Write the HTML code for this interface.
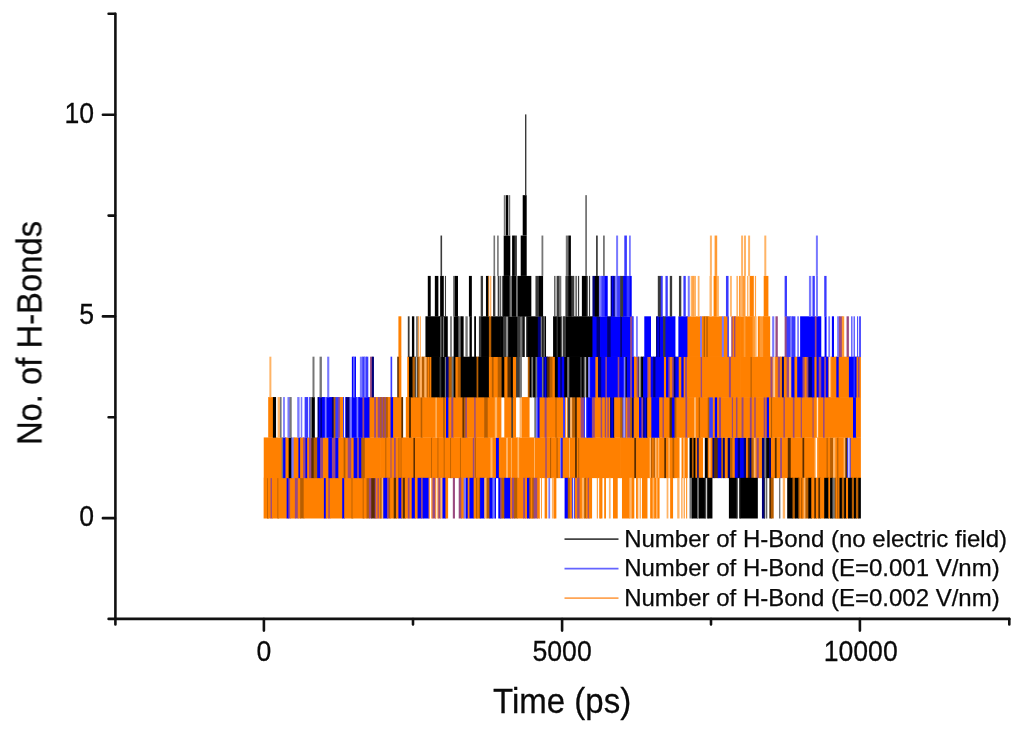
<!DOCTYPE html>
<html><head><meta charset="utf-8"><title>H-Bonds</title>
<style>
html,body{margin:0;padding:0;background:#fff;}
body{width:1024px;height:732px;overflow:hidden;}
svg{display:block;}
text{font-family:"Liberation Sans",sans-serif;fill:#0a0a0a;stroke:#0a0a0a;stroke-width:0.25px;}
#labels{opacity:0.999;}
</style></head><body>
<svg width="1024" height="732" viewBox="0 0 1024 732">
<defs><filter id="soft" x="-2%" y="-2%" width="104%" height="104%" color-interpolation-filters="sRGB"><feGaussianBlur stdDeviation="0.45 0.35"/></filter></defs>
<rect width="1024" height="732" fill="#fff"/>
<g id="data" filter="url(#soft)">
<rect x="263.61" y="477.82" width="4.46" height="40.68" fill="#ff8000"/>
<rect x="267.10" y="477.82" width="1.70" height="40.68" fill="#b85e00"/>
<rect x="267.84" y="477.82" width="3.40" height="40.68" fill="#ff8000"/>
<rect x="270.54" y="477.82" width="2.11" height="40.68" fill="#9a4a80"/>
<rect x="271.95" y="477.82" width="6.34" height="40.68" fill="#ff8000"/>
<rect x="277.44" y="477.82" width="1.70" height="40.68" fill="#b85e00"/>
<rect x="278.30" y="477.82" width="9.04" height="40.68" fill="#ff8000"/>
<rect x="286.64" y="477.82" width="2.46" height="40.68" fill="#0000ff"/>
<rect x="288.40" y="477.82" width="2.46" height="40.68" fill="#9a4a80"/>
<rect x="290.16" y="477.82" width="5.40" height="40.68" fill="#ff8000"/>
<rect x="294.87" y="477.82" width="3.64" height="40.68" fill="#9a4a80"/>
<rect x="297.80" y="477.82" width="3.05" height="40.68" fill="#ff8000"/>
<rect x="300.15" y="477.82" width="4.23" height="40.68" fill="#b85e00"/>
<rect x="303.68" y="477.82" width="20.91" height="40.68" fill="#ff8000"/>
<rect x="323.89" y="477.82" width="2.58" height="40.68" fill="#0000ff"/>
<rect x="325.77" y="477.82" width="3.29" height="40.68" fill="#ff8000"/>
<rect x="328.36" y="477.82" width="2.11" height="40.68" fill="#9a4a80"/>
<rect x="329.77" y="477.82" width="13.16" height="40.68" fill="#ff8000"/>
<rect x="342.22" y="477.82" width="2.70" height="40.68" fill="#0000ff"/>
<rect x="344.22" y="477.82" width="8.10" height="40.68" fill="#ff8000"/>
<rect x="351.53" y="477.82" width="1.70" height="40.68" fill="#b85e00"/>
<rect x="352.44" y="477.82" width="11.04" height="40.68" fill="#ff8000"/>
<rect x="362.70" y="477.82" width="1.70" height="40.68" fill="#b85e00"/>
<rect x="363.61" y="477.82" width="3.64" height="40.68" fill="#ff8000"/>
<rect x="366.55" y="477.82" width="3.05" height="40.68" fill="#b85e00"/>
<rect x="368.90" y="477.82" width="3.05" height="40.68" fill="#9a4a80"/>
<rect x="371.25" y="477.82" width="4.23" height="40.68" fill="#5a2d00"/>
<rect x="374.77" y="477.82" width="2.05" height="40.68" fill="#9a4a80"/>
<rect x="376.12" y="477.82" width="2.05" height="40.68" fill="#ff8000"/>
<rect x="377.47" y="477.82" width="2.05" height="40.68" fill="#9a4a80"/>
<rect x="378.83" y="477.82" width="2.05" height="40.68" fill="#ff8000"/>
<rect x="263.73" y="437.44" width="18.68" height="40.68" fill="#ff8000"/>
<rect x="281.70" y="437.44" width="2.11" height="40.68" fill="#767676"/>
<rect x="283.11" y="437.44" width="3.05" height="40.68" fill="#0000ff"/>
<rect x="285.46" y="437.44" width="3.87" height="40.68" fill="#ff8000"/>
<rect x="288.64" y="437.44" width="3.40" height="40.68" fill="#000000"/>
<rect x="291.34" y="437.44" width="3.05" height="40.68" fill="#7878ff"/>
<rect x="293.69" y="437.44" width="5.40" height="40.68" fill="#ff8000"/>
<rect x="298.39" y="437.44" width="2.46" height="40.68" fill="#0000ff"/>
<rect x="300.15" y="437.44" width="3.64" height="40.68" fill="#ff8000"/>
<rect x="303.09" y="437.44" width="3.05" height="40.68" fill="#9a4a80"/>
<rect x="305.44" y="437.44" width="2.46" height="40.68" fill="#0000ff"/>
<rect x="307.20" y="437.44" width="2.46" height="40.68" fill="#ff8000"/>
<rect x="308.97" y="437.44" width="3.05" height="40.68" fill="#9a4a80"/>
<rect x="311.32" y="437.44" width="3.05" height="40.68" fill="#5a2d00"/>
<rect x="313.67" y="437.44" width="4.23" height="40.68" fill="#b85e00"/>
<rect x="317.19" y="437.44" width="3.64" height="40.68" fill="#0000ff"/>
<rect x="320.13" y="437.44" width="3.64" height="40.68" fill="#9a4a80"/>
<rect x="323.07" y="437.44" width="5.99" height="40.68" fill="#ff8000"/>
<rect x="328.36" y="437.44" width="4.23" height="40.68" fill="#0000ff"/>
<rect x="331.88" y="437.44" width="4.23" height="40.68" fill="#9a4a80"/>
<rect x="335.41" y="437.44" width="3.64" height="40.68" fill="#0000ff"/>
<rect x="338.34" y="437.44" width="5.99" height="40.68" fill="#ff8000"/>
<rect x="343.63" y="437.44" width="2.46" height="40.68" fill="#b85e00"/>
<rect x="345.39" y="437.44" width="3.05" height="40.68" fill="#ff8000"/>
<rect x="347.74" y="437.44" width="4.23" height="40.68" fill="#9a4a80"/>
<rect x="351.27" y="437.44" width="3.05" height="40.68" fill="#ff8000"/>
<rect x="353.62" y="437.44" width="4.23" height="40.68" fill="#0000ff"/>
<rect x="357.14" y="437.44" width="2.46" height="40.68" fill="#9a4a80"/>
<rect x="358.91" y="437.44" width="3.05" height="40.68" fill="#0000ff"/>
<rect x="361.26" y="437.44" width="4.23" height="40.68" fill="#b85e00"/>
<rect x="364.78" y="437.44" width="16.09" height="40.68" fill="#ff8000"/>
<rect x="380.20" y="437.44" width="5.87" height="40.68" fill="#ff8000"/>
<rect x="385.34" y="437.44" width="1.70" height="40.68" fill="#b85e00"/>
<rect x="386.31" y="437.44" width="4.93" height="40.68" fill="#ff8000"/>
<rect x="390.51" y="437.44" width="1.70" height="40.68" fill="#9a4a80"/>
<rect x="391.48" y="437.44" width="3.29" height="40.68" fill="#ff8000"/>
<rect x="394.07" y="437.44" width="2.35" height="40.68" fill="#9a4a80"/>
<rect x="395.71" y="437.44" width="3.64" height="40.68" fill="#ff8000"/>
<rect x="398.50" y="437.44" width="1.70" height="40.68" fill="#b85e00"/>
<rect x="399.35" y="437.44" width="2.11" height="40.68" fill="#ff8000"/>
<rect x="400.62" y="437.44" width="1.70" height="40.68" fill="#b85e00"/>
<rect x="401.47" y="437.44" width="12.69" height="40.68" fill="#ff8000"/>
<rect x="413.45" y="437.44" width="2.23" height="40.68" fill="#5a2d00"/>
<rect x="414.98" y="437.44" width="17.03" height="40.68" fill="#ff8000"/>
<rect x="431.17" y="437.44" width="1.70" height="40.68" fill="#b85e00"/>
<rect x="432.02" y="437.44" width="6.34" height="40.68" fill="#ff8000"/>
<rect x="437.51" y="437.44" width="1.70" height="40.68" fill="#b85e00"/>
<rect x="438.37" y="437.44" width="6.22" height="40.68" fill="#ff8000"/>
<rect x="443.74" y="437.44" width="1.70" height="40.68" fill="#b85e00"/>
<rect x="444.59" y="437.44" width="6.46" height="40.68" fill="#ff8000"/>
<rect x="450.21" y="437.44" width="1.70" height="40.68" fill="#b85e00"/>
<rect x="451.06" y="437.44" width="9.75" height="40.68" fill="#ff8000"/>
<rect x="459.96" y="437.44" width="1.70" height="40.68" fill="#b85e00"/>
<rect x="460.81" y="437.44" width="12.69" height="40.68" fill="#ff8000"/>
<rect x="472.80" y="437.44" width="2.35" height="40.68" fill="#9a4a80"/>
<rect x="474.44" y="437.44" width="1.52" height="40.68" fill="#ff8000"/>
<rect x="475.12" y="437.44" width="1.70" height="40.68" fill="#b85e00"/>
<rect x="475.97" y="437.44" width="15.15" height="40.68" fill="#ff8000"/>
<rect x="490.42" y="437.44" width="2.82" height="40.68" fill="#ffb466"/>
<rect x="492.54" y="437.44" width="4.11" height="40.68" fill="#ff8000"/>
<rect x="495.95" y="437.44" width="3.64" height="40.68" fill="#0000ff"/>
<rect x="498.88" y="437.44" width="1.99" height="40.68" fill="#ff8000"/>
<rect x="380.20" y="477.82" width="2.11" height="40.68" fill="#b85e00"/>
<rect x="381.61" y="477.82" width="2.35" height="40.68" fill="#ffb466"/>
<rect x="383.26" y="477.82" width="4.46" height="40.68" fill="#0000ff"/>
<rect x="387.02" y="477.82" width="2.35" height="40.68" fill="#9a4a80"/>
<rect x="388.66" y="477.82" width="2.23" height="40.68" fill="#b85e00"/>
<rect x="390.19" y="477.82" width="4.23" height="40.68" fill="#ff8000"/>
<rect x="393.71" y="477.82" width="3.05" height="40.68" fill="#5a2d00"/>
<rect x="396.06" y="477.82" width="3.05" height="40.68" fill="#ff8000"/>
<rect x="398.41" y="477.82" width="3.64" height="40.68" fill="#0000ff"/>
<rect x="401.35" y="477.82" width="2.11" height="40.68" fill="#ff8000"/>
<rect x="402.76" y="477.82" width="2.82" height="40.68" fill="#5a2d00"/>
<rect x="404.88" y="477.82" width="3.64" height="40.68" fill="#ff8000"/>
<rect x="407.81" y="477.82" width="2.46" height="40.68" fill="#9a4a80"/>
<rect x="409.58" y="477.82" width="2.82" height="40.68" fill="#ff8000"/>
<rect x="411.69" y="477.82" width="3.87" height="40.68" fill="#0000ff"/>
<rect x="414.87" y="477.82" width="3.40" height="40.68" fill="#ff8000"/>
<rect x="417.57" y="477.82" width="4.23" height="40.68" fill="#0000ff"/>
<rect x="421.09" y="477.82" width="2.35" height="40.68" fill="#9a4a80"/>
<rect x="422.74" y="477.82" width="6.58" height="40.68" fill="#0000ff"/>
<rect x="428.61" y="477.82" width="1.29" height="40.68" fill="#ff9a33"/>
<rect x="431.20" y="477.82" width="1.99" height="40.68" fill="#ff9a33"/>
<rect x="432.49" y="477.82" width="3.40" height="40.68" fill="#9a4a80"/>
<rect x="435.19" y="477.82" width="1.06" height="40.68" fill="#ff9a33"/>
<rect x="437.31" y="477.82" width="1.76" height="40.68" fill="#ff9a33"/>
<rect x="438.37" y="477.82" width="2.70" height="40.68" fill="#9a4a80"/>
<rect x="440.36" y="477.82" width="2.82" height="40.68" fill="#ffb466"/>
<rect x="442.48" y="477.82" width="3.64" height="40.68" fill="#0000ff"/>
<rect x="445.42" y="477.82" width="2.70" height="40.68" fill="#ff8000"/>
<rect x="452.82" y="477.82" width="2.12" height="40.68" fill="#9a4a80"/>
<rect x="458.70" y="477.82" width="3.29" height="40.68" fill="#9a4a80"/>
<rect x="461.28" y="477.82" width="3.05" height="40.68" fill="#ff8000"/>
<rect x="463.63" y="477.82" width="3.05" height="40.68" fill="#7878ff"/>
<rect x="465.98" y="477.82" width="2.46" height="40.68" fill="#0000ff"/>
<rect x="467.74" y="477.82" width="2.46" height="40.68" fill="#ff8000"/>
<rect x="469.51" y="477.82" width="4.81" height="40.68" fill="#0000ff"/>
<rect x="473.62" y="477.82" width="3.05" height="40.68" fill="#ff8000"/>
<rect x="475.97" y="477.82" width="2.07" height="40.68" fill="#b85e00"/>
<rect x="477.34" y="477.82" width="2.07" height="40.68" fill="#ff8000"/>
<rect x="478.71" y="477.82" width="2.07" height="40.68" fill="#b85e00"/>
<rect x="480.08" y="477.82" width="4.81" height="40.68" fill="#0000ff"/>
<rect x="484.20" y="477.82" width="3.05" height="40.68" fill="#ffb466"/>
<rect x="486.55" y="477.82" width="3.64" height="40.68" fill="#b85e00"/>
<rect x="489.48" y="477.82" width="3.64" height="40.68" fill="#0000ff"/>
<rect x="492.42" y="477.82" width="3.05" height="40.68" fill="#7878ff"/>
<rect x="494.77" y="477.82" width="1.18" height="40.68" fill="#0000ff"/>
<rect x="498.30" y="477.82" width="2.58" height="40.68" fill="#0000ff"/>
<rect x="500.20" y="437.44" width="6.58" height="40.68" fill="#ff8000"/>
<rect x="506.08" y="437.44" width="2.58" height="40.68" fill="#ffb466"/>
<rect x="507.96" y="437.44" width="3.76" height="40.68" fill="#ff8000"/>
<rect x="510.92" y="437.44" width="1.70" height="40.68" fill="#ffb466"/>
<rect x="511.83" y="437.44" width="6.34" height="40.68" fill="#ff8000"/>
<rect x="517.47" y="437.44" width="2.35" height="40.68" fill="#ffb466"/>
<rect x="519.12" y="437.44" width="15.74" height="40.68" fill="#ff8000"/>
<rect x="534.07" y="437.44" width="1.70" height="40.68" fill="#ffb466"/>
<rect x="534.98" y="437.44" width="11.04" height="40.68" fill="#ff8000"/>
<rect x="545.32" y="437.44" width="2.11" height="40.68" fill="#9a4a80"/>
<rect x="546.73" y="437.44" width="3.99" height="40.68" fill="#ff8000"/>
<rect x="550.02" y="437.44" width="1.88" height="40.68" fill="#b85e00"/>
<rect x="551.20" y="437.44" width="5.99" height="40.68" fill="#ff8000"/>
<rect x="556.49" y="437.44" width="1.88" height="40.68" fill="#b85e00"/>
<rect x="557.66" y="437.44" width="3.17" height="40.68" fill="#ff8000"/>
<rect x="560.13" y="437.44" width="1.88" height="40.68" fill="#7878ff"/>
<rect x="561.30" y="437.44" width="1.99" height="40.68" fill="#0000ff"/>
<rect x="562.60" y="437.44" width="7.28" height="40.68" fill="#ff8000"/>
<rect x="569.09" y="437.44" width="1.70" height="40.68" fill="#ffb466"/>
<rect x="570.00" y="437.44" width="5.75" height="40.68" fill="#ff8000"/>
<rect x="575.05" y="437.44" width="2.46" height="40.68" fill="#5a2d00"/>
<rect x="576.82" y="437.44" width="2.23" height="40.68" fill="#ff8000"/>
<rect x="578.25" y="437.44" width="1.70" height="40.68" fill="#b85e00"/>
<rect x="579.17" y="437.44" width="41.71" height="40.68" fill="#ff8000"/>
<rect x="500.20" y="477.82" width="2.11" height="40.68" fill="#9a4a80"/>
<rect x="501.61" y="477.82" width="3.40" height="40.68" fill="#b85e00"/>
<rect x="504.31" y="477.82" width="6.58" height="40.68" fill="#0000ff"/>
<rect x="510.19" y="477.82" width="2.46" height="40.68" fill="#ff8000"/>
<rect x="511.95" y="477.82" width="2.82" height="40.68" fill="#9a4a80"/>
<rect x="514.07" y="477.82" width="3.87" height="40.68" fill="#b85e00"/>
<rect x="517.24" y="477.82" width="6.58" height="40.68" fill="#ff8000"/>
<rect x="523.11" y="477.82" width="2.70" height="40.68" fill="#9a4a80"/>
<rect x="525.11" y="477.82" width="2.58" height="40.68" fill="#ff8000"/>
<rect x="526.99" y="477.82" width="3.05" height="40.68" fill="#0000ff"/>
<rect x="529.34" y="477.82" width="2.15" height="40.68" fill="#b85e00"/>
<rect x="530.79" y="477.82" width="2.15" height="40.68" fill="#ff8000"/>
<rect x="532.24" y="477.82" width="2.15" height="40.68" fill="#b85e00"/>
<rect x="533.69" y="477.82" width="4.23" height="40.68" fill="#9a4a80"/>
<rect x="537.22" y="477.82" width="2.46" height="40.68" fill="#ff8000"/>
<rect x="538.97" y="477.82" width="1.00" height="40.68" fill="#ff9a33"/>
<rect x="540.93" y="477.82" width="1.00" height="40.68" fill="#ff9a33"/>
<rect x="544.62" y="477.82" width="2.59" height="40.68" fill="#ff8000"/>
<rect x="548.38" y="477.82" width="1.76" height="40.68" fill="#7878ff"/>
<rect x="551.90" y="477.82" width="2.82" height="40.68" fill="#ffb466"/>
<rect x="554.02" y="477.82" width="2.35" height="40.68" fill="#ff8000"/>
<rect x="564.59" y="477.82" width="3.87" height="40.68" fill="#0000ff"/>
<rect x="567.77" y="477.82" width="2.70" height="40.68" fill="#b85e00"/>
<rect x="569.77" y="477.82" width="2.82" height="40.68" fill="#ff8000"/>
<rect x="571.87" y="477.82" width="1.00" height="40.68" fill="#3a3aff"/>
<rect x="573.83" y="477.82" width="1.70" height="40.68" fill="#3a3aff"/>
<rect x="574.82" y="477.82" width="3.05" height="40.68" fill="#ff8000"/>
<rect x="577.17" y="477.82" width="3.05" height="40.68" fill="#9a4a80"/>
<rect x="579.52" y="477.82" width="3.05" height="40.68" fill="#ff8000"/>
<rect x="581.87" y="477.82" width="3.05" height="40.68" fill="#ffb466"/>
<rect x="584.22" y="477.82" width="2.46" height="40.68" fill="#b85e00"/>
<rect x="585.98" y="477.82" width="2.46" height="40.68" fill="#ff8000"/>
<rect x="587.74" y="477.82" width="1.88" height="40.68" fill="#9a4a80"/>
<rect x="588.92" y="477.82" width="3.17" height="40.68" fill="#ff8000"/>
<rect x="596.79" y="477.82" width="1.10" height="40.68" fill="#ff9a33"/>
<rect x="598.99" y="477.82" width="1.80" height="40.68" fill="#ff9a33"/>
<rect x="600.08" y="477.82" width="2.35" height="40.68" fill="#ff8000"/>
<rect x="604.20" y="477.82" width="1.76" height="40.68" fill="#ff8000"/>
<rect x="608.90" y="477.82" width="1.76" height="40.68" fill="#ffb466"/>
<rect x="613.01" y="477.82" width="4.70" height="40.68" fill="#ff8000"/>
<rect x="620.20" y="437.44" width="14.80" height="40.68" fill="#ff8000"/>
<rect x="634.30" y="437.44" width="2.46" height="40.68" fill="#5a2d00"/>
<rect x="636.06" y="437.44" width="14.21" height="40.68" fill="#ff8000"/>
<rect x="649.58" y="437.44" width="2.11" height="40.68" fill="#ffb466"/>
<rect x="650.99" y="437.44" width="1.99" height="40.68" fill="#b85e00"/>
<rect x="652.28" y="437.44" width="1.99" height="40.68" fill="#ff8000"/>
<rect x="653.57" y="437.44" width="1.99" height="40.68" fill="#b85e00"/>
<rect x="654.87" y="437.44" width="2.46" height="40.68" fill="#ffb466"/>
<rect x="656.63" y="437.44" width="1.88" height="40.68" fill="#ff8000"/>
<rect x="657.80" y="437.44" width="2.11" height="40.68" fill="#ffb466"/>
<rect x="659.21" y="437.44" width="5.75" height="40.68" fill="#ff8000"/>
<rect x="664.27" y="437.44" width="2.46" height="40.68" fill="#5a2d00"/>
<rect x="666.03" y="437.44" width="3.05" height="40.68" fill="#ff8000"/>
<rect x="668.38" y="437.44" width="2.11" height="40.68" fill="#ffb466"/>
<rect x="669.79" y="437.44" width="3.40" height="40.68" fill="#ff8000"/>
<rect x="672.49" y="437.44" width="2.46" height="40.68" fill="#b85e00"/>
<rect x="674.25" y="437.44" width="5.29" height="40.68" fill="#ff8000"/>
<rect x="681.54" y="437.44" width="2.23" height="40.68" fill="#ff8000"/>
<rect x="683.07" y="437.44" width="2.46" height="40.68" fill="#ffb466"/>
<rect x="684.83" y="437.44" width="2.94" height="40.68" fill="#ff8000"/>
<rect x="689.53" y="437.44" width="3.05" height="40.68" fill="#000000"/>
<rect x="691.88" y="437.44" width="2.46" height="40.68" fill="#b85e00"/>
<rect x="693.64" y="437.44" width="2.46" height="40.68" fill="#000000"/>
<rect x="695.41" y="437.44" width="2.46" height="40.68" fill="#ff8000"/>
<rect x="697.17" y="437.44" width="2.23" height="40.68" fill="#00007a"/>
<rect x="698.70" y="437.44" width="4.35" height="40.68" fill="#ff8000"/>
<rect x="704.81" y="437.44" width="3.64" height="40.68" fill="#000000"/>
<rect x="707.74" y="437.44" width="1.88" height="40.68" fill="#ff8000"/>
<rect x="708.92" y="437.44" width="2.46" height="40.68" fill="#ffb466"/>
<rect x="710.68" y="437.44" width="2.46" height="40.68" fill="#ff8000"/>
<rect x="712.44" y="437.44" width="2.46" height="40.68" fill="#00007a"/>
<rect x="714.21" y="437.44" width="4.23" height="40.68" fill="#5a2d00"/>
<rect x="717.73" y="437.44" width="4.23" height="40.68" fill="#0000ff"/>
<rect x="721.26" y="437.44" width="2.46" height="40.68" fill="#b85e00"/>
<rect x="723.02" y="437.44" width="2.46" height="40.68" fill="#00007a"/>
<rect x="724.78" y="437.44" width="3.64" height="40.68" fill="#ff8000"/>
<rect x="727.72" y="437.44" width="3.05" height="40.68" fill="#00007a"/>
<rect x="730.07" y="437.44" width="3.05" height="40.68" fill="#b85e00"/>
<rect x="732.42" y="437.44" width="3.05" height="40.68" fill="#ff8000"/>
<rect x="734.77" y="437.44" width="3.64" height="40.68" fill="#0000ff"/>
<rect x="737.71" y="437.44" width="3.17" height="40.68" fill="#00007a"/>
<rect x="621.96" y="477.82" width="8.10" height="40.68" fill="#ff8000"/>
<rect x="629.37" y="477.82" width="3.05" height="40.68" fill="#ffb466"/>
<rect x="631.72" y="477.82" width="2.59" height="40.68" fill="#ff8000"/>
<rect x="636.06" y="477.82" width="1.88" height="40.68" fill="#ff8000"/>
<rect x="637.24" y="477.82" width="1.18" height="40.68" fill="#ff9a33"/>
<rect x="639.59" y="477.82" width="1.18" height="40.68" fill="#ff9a33"/>
<rect x="641.94" y="477.82" width="5.52" height="40.68" fill="#ff8000"/>
<rect x="650.16" y="477.82" width="3.05" height="40.68" fill="#ff8000"/>
<rect x="652.51" y="477.82" width="2.46" height="40.68" fill="#ffb466"/>
<rect x="654.28" y="477.82" width="2.46" height="40.68" fill="#ff8000"/>
<rect x="656.04" y="477.82" width="2.23" height="40.68" fill="#ffb466"/>
<rect x="657.57" y="477.82" width="2.00" height="40.68" fill="#ff8000"/>
<rect x="666.62" y="477.82" width="1.76" height="40.68" fill="#ffb466"/>
<rect x="670.14" y="477.82" width="2.94" height="40.68" fill="#ff8000"/>
<rect x="677.19" y="477.82" width="2.35" height="40.68" fill="#ffb466"/>
<rect x="681.30" y="477.82" width="1.18" height="40.68" fill="#ff9a33"/>
<rect x="683.65" y="477.82" width="1.18" height="40.68" fill="#ff9a33"/>
<rect x="686.00" y="477.82" width="1.18" height="40.68" fill="#ff9a33"/>
<rect x="689.53" y="477.82" width="3.05" height="40.68" fill="#767676"/>
<rect x="691.88" y="477.82" width="5.99" height="40.68" fill="#000000"/>
<rect x="697.17" y="477.82" width="2.46" height="40.68" fill="#767676"/>
<rect x="698.93" y="477.82" width="6.58" height="40.68" fill="#000000"/>
<rect x="704.80" y="477.82" width="1.00" height="40.68" fill="#3a3a3a"/>
<rect x="706.75" y="477.82" width="1.70" height="40.68" fill="#3a3a3a"/>
<rect x="707.74" y="477.82" width="4.70" height="40.68" fill="#000000"/>
<rect x="728.90" y="477.82" width="8.34" height="40.68" fill="#000000"/>
<rect x="736.53" y="477.82" width="1.21" height="40.68" fill="#3a3a3a"/>
<rect x="738.96" y="477.82" width="1.91" height="40.68" fill="#3a3a3a"/>
<rect x="740.20" y="437.44" width="4.23" height="40.68" fill="#0000ff"/>
<rect x="743.73" y="437.44" width="3.05" height="40.68" fill="#00007a"/>
<rect x="746.08" y="437.44" width="2.46" height="40.68" fill="#ff8000"/>
<rect x="747.84" y="437.44" width="2.46" height="40.68" fill="#5a2d00"/>
<rect x="749.60" y="437.44" width="2.46" height="40.68" fill="#00007a"/>
<rect x="751.36" y="437.44" width="3.05" height="40.68" fill="#b85e00"/>
<rect x="753.71" y="437.44" width="2.46" height="40.68" fill="#ffb466"/>
<rect x="755.48" y="437.44" width="1.88" height="40.68" fill="#ff8000"/>
<rect x="756.65" y="437.44" width="2.82" height="40.68" fill="#9a4a80"/>
<rect x="758.77" y="437.44" width="3.87" height="40.68" fill="#ff8000"/>
<rect x="761.94" y="437.44" width="3.05" height="40.68" fill="#00007a"/>
<rect x="764.29" y="437.44" width="2.70" height="40.68" fill="#767676"/>
<rect x="766.29" y="437.44" width="3.40" height="40.68" fill="#000000"/>
<rect x="768.99" y="437.44" width="2.70" height="40.68" fill="#00007a"/>
<rect x="770.99" y="437.44" width="4.58" height="40.68" fill="#ff8000"/>
<rect x="774.87" y="437.44" width="2.46" height="40.68" fill="#5a2d00"/>
<rect x="776.63" y="437.44" width="4.23" height="40.68" fill="#ff8000"/>
<rect x="780.15" y="437.44" width="2.46" height="40.68" fill="#9a4a80"/>
<rect x="781.92" y="437.44" width="6.58" height="40.68" fill="#ff8000"/>
<rect x="787.79" y="437.44" width="3.64" height="40.68" fill="#5a2d00"/>
<rect x="790.73" y="437.44" width="12.45" height="40.68" fill="#ff8000"/>
<rect x="802.48" y="437.44" width="2.46" height="40.68" fill="#5a2d00"/>
<rect x="804.24" y="437.44" width="10.69" height="40.68" fill="#ff8000"/>
<rect x="814.23" y="437.44" width="1.37" height="40.68" fill="#ff9a33"/>
<rect x="816.97" y="437.44" width="2.07" height="40.68" fill="#ff9a33"/>
<rect x="818.34" y="437.44" width="8.93" height="40.68" fill="#ff8000"/>
<rect x="826.57" y="437.44" width="1.88" height="40.68" fill="#b85e00"/>
<rect x="827.74" y="437.44" width="3.05" height="40.68" fill="#ff8000"/>
<rect x="830.09" y="437.44" width="3.64" height="40.68" fill="#b85e00"/>
<rect x="833.03" y="437.44" width="3.05" height="40.68" fill="#ffb466"/>
<rect x="835.38" y="437.44" width="2.46" height="40.68" fill="#ff8000"/>
<rect x="837.14" y="437.44" width="1.88" height="40.68" fill="#b85e00"/>
<rect x="838.32" y="437.44" width="5.99" height="40.68" fill="#ff8000"/>
<rect x="843.61" y="437.44" width="2.46" height="40.68" fill="#ffb466"/>
<rect x="845.37" y="437.44" width="2.46" height="40.68" fill="#5a2d00"/>
<rect x="847.13" y="437.44" width="1.18" height="40.68" fill="#3a3aff"/>
<rect x="849.48" y="437.44" width="1.88" height="40.68" fill="#3a3aff"/>
<rect x="850.66" y="437.44" width="10.22" height="40.68" fill="#ff8000"/>
<rect x="740.20" y="477.82" width="17.63" height="40.68" fill="#000000"/>
<rect x="761.94" y="477.82" width="3.05" height="40.68" fill="#00007a"/>
<rect x="764.28" y="477.82" width="1.00" height="40.68" fill="#3a3a3a"/>
<rect x="766.24" y="477.82" width="1.00" height="40.68" fill="#3a3a3a"/>
<rect x="769.34" y="477.82" width="2.35" height="40.68" fill="#5a2d00"/>
<rect x="770.99" y="477.82" width="2.70" height="40.68" fill="#b85e00"/>
<rect x="778.98" y="477.82" width="1.41" height="40.68" fill="#767676"/>
<rect x="782.74" y="477.82" width="2.35" height="40.68" fill="#ffb466"/>
<rect x="787.20" y="477.82" width="5.99" height="40.68" fill="#000000"/>
<rect x="792.49" y="477.82" width="3.05" height="40.68" fill="#b85e00"/>
<rect x="794.84" y="477.82" width="4.23" height="40.68" fill="#000000"/>
<rect x="798.37" y="477.82" width="2.02" height="40.68" fill="#b85e00"/>
<rect x="799.69" y="477.82" width="2.02" height="40.68" fill="#ff8000"/>
<rect x="801.01" y="477.82" width="2.02" height="40.68" fill="#b85e00"/>
<rect x="802.33" y="477.82" width="2.02" height="40.68" fill="#ff8000"/>
<rect x="803.65" y="477.82" width="2.46" height="40.68" fill="#ffb466"/>
<rect x="805.42" y="477.82" width="3.64" height="40.68" fill="#b85e00"/>
<rect x="808.36" y="477.82" width="3.64" height="40.68" fill="#000000"/>
<rect x="811.29" y="477.82" width="3.64" height="40.68" fill="#ff8000"/>
<rect x="814.23" y="477.82" width="2.46" height="40.68" fill="#5a2d00"/>
<rect x="815.99" y="477.82" width="3.05" height="40.68" fill="#ff8000"/>
<rect x="818.34" y="477.82" width="2.46" height="40.68" fill="#5a2d00"/>
<rect x="820.11" y="477.82" width="4.81" height="40.68" fill="#ff8000"/>
<rect x="824.22" y="477.82" width="4.81" height="40.68" fill="#000000"/>
<rect x="828.33" y="477.82" width="2.46" height="40.68" fill="#ff8000"/>
<rect x="830.09" y="477.82" width="3.05" height="40.68" fill="#000000"/>
<rect x="832.44" y="477.82" width="3.05" height="40.68" fill="#767676"/>
<rect x="834.79" y="477.82" width="1.88" height="40.68" fill="#b85e00"/>
<rect x="835.97" y="477.82" width="1.88" height="40.68" fill="#ff8000"/>
<rect x="837.14" y="477.82" width="1.88" height="40.68" fill="#b85e00"/>
<rect x="838.32" y="477.82" width="1.88" height="40.68" fill="#ff8000"/>
<rect x="839.49" y="477.82" width="3.05" height="40.68" fill="#000000"/>
<rect x="841.85" y="477.82" width="3.05" height="40.68" fill="#b85e00"/>
<rect x="844.20" y="477.82" width="2.46" height="40.68" fill="#000000"/>
<rect x="845.96" y="477.82" width="2.82" height="40.68" fill="#ff8000"/>
<rect x="848.07" y="477.82" width="4.46" height="40.68" fill="#000000"/>
<rect x="851.83" y="477.82" width="2.82" height="40.68" fill="#b85e00"/>
<rect x="853.95" y="477.82" width="2.70" height="40.68" fill="#000000"/>
<rect x="855.95" y="477.82" width="3.05" height="40.68" fill="#b85e00"/>
<rect x="858.30" y="477.82" width="2.58" height="40.68" fill="#000000"/>
<rect x="268.19" y="397.06" width="5.40" height="40.68" fill="#ff8000"/>
<rect x="272.89" y="397.06" width="3.17" height="40.68" fill="#000000"/>
<rect x="277.59" y="397.06" width="3.05" height="40.68" fill="#ffb466"/>
<rect x="279.94" y="397.06" width="1.65" height="40.68" fill="#767676"/>
<rect x="283.11" y="397.06" width="1.76" height="40.68" fill="#7878ff"/>
<rect x="287.46" y="397.06" width="2.82" height="40.68" fill="#7878ff"/>
<rect x="289.58" y="397.06" width="2.12" height="40.68" fill="#767676"/>
<rect x="297.22" y="397.06" width="2.35" height="40.68" fill="#7878ff"/>
<rect x="300.74" y="397.06" width="1.53" height="40.68" fill="#7878ff"/>
<rect x="304.62" y="397.06" width="3.29" height="40.68" fill="#3a3aff"/>
<rect x="307.19" y="397.06" width="1.00" height="40.68" fill="#3a3aff"/>
<rect x="309.15" y="397.06" width="1.70" height="40.68" fill="#3a3aff"/>
<rect x="310.14" y="397.06" width="2.46" height="40.68" fill="#767676"/>
<rect x="311.90" y="397.06" width="2.94" height="40.68" fill="#000000"/>
<rect x="317.54" y="397.06" width="2.15" height="40.68" fill="#00007a"/>
<rect x="318.99" y="397.06" width="2.15" height="40.68" fill="#0000ff"/>
<rect x="320.44" y="397.06" width="2.15" height="40.68" fill="#00007a"/>
<rect x="321.89" y="397.06" width="3.64" height="40.68" fill="#0000ff"/>
<rect x="324.83" y="397.06" width="2.46" height="40.68" fill="#7878ff"/>
<rect x="326.59" y="397.06" width="5.99" height="40.68" fill="#0000ff"/>
<rect x="331.88" y="397.06" width="2.46" height="40.68" fill="#00007a"/>
<rect x="333.64" y="397.06" width="2.46" height="40.68" fill="#b85e00"/>
<rect x="335.41" y="397.06" width="3.64" height="40.68" fill="#3a3aff"/>
<rect x="338.34" y="397.06" width="2.46" height="40.68" fill="#9a4a80"/>
<rect x="340.11" y="397.06" width="3.64" height="40.68" fill="#ff8000"/>
<rect x="343.03" y="397.06" width="1.00" height="40.68" fill="#3a3aff"/>
<rect x="344.99" y="397.06" width="1.70" height="40.68" fill="#3a3aff"/>
<rect x="345.98" y="397.06" width="4.23" height="40.68" fill="#00007a"/>
<rect x="349.51" y="397.06" width="3.05" height="40.68" fill="#7878ff"/>
<rect x="351.86" y="397.06" width="5.40" height="40.68" fill="#0000ff"/>
<rect x="356.56" y="397.06" width="2.46" height="40.68" fill="#7878ff"/>
<rect x="358.32" y="397.06" width="4.81" height="40.68" fill="#0000ff"/>
<rect x="362.43" y="397.06" width="2.46" height="40.68" fill="#9a4a80"/>
<rect x="364.20" y="397.06" width="5.99" height="40.68" fill="#0000ff"/>
<rect x="369.48" y="397.06" width="5.40" height="40.68" fill="#ff8000"/>
<rect x="374.18" y="397.06" width="2.46" height="40.68" fill="#9a4a80"/>
<rect x="375.95" y="397.06" width="2.46" height="40.68" fill="#ff8000"/>
<rect x="377.71" y="397.06" width="3.17" height="40.68" fill="#9a4a80"/>
<rect x="269.37" y="356.68" width="2.00" height="40.68" fill="#ffb466"/>
<rect x="312.49" y="356.68" width="2.00" height="40.68" fill="#767676"/>
<rect x="319.54" y="356.68" width="2.35" height="40.68" fill="#767676"/>
<rect x="327.18" y="356.68" width="2.12" height="40.68" fill="#7878ff"/>
<rect x="351.86" y="356.68" width="2.07" height="40.68" fill="#0000ff"/>
<rect x="353.23" y="356.68" width="2.07" height="40.68" fill="#7878ff"/>
<rect x="354.60" y="356.68" width="1.37" height="40.68" fill="#0000ff"/>
<rect x="359.85" y="356.68" width="3.29" height="40.68" fill="#7878ff"/>
<rect x="362.43" y="356.68" width="2.46" height="40.68" fill="#3a3aff"/>
<rect x="364.20" y="356.68" width="2.46" height="40.68" fill="#7878ff"/>
<rect x="365.96" y="356.68" width="2.35" height="40.68" fill="#3a3aff"/>
<rect x="370.07" y="356.68" width="2.46" height="40.68" fill="#9a4a80"/>
<rect x="371.83" y="356.68" width="2.12" height="40.68" fill="#00007a"/>
<rect x="380.20" y="397.06" width="1.88" height="40.68" fill="#b85e00"/>
<rect x="381.38" y="397.06" width="2.46" height="40.68" fill="#9a4a80"/>
<rect x="383.14" y="397.06" width="1.88" height="40.68" fill="#b85e00"/>
<rect x="384.31" y="397.06" width="2.23" height="40.68" fill="#9a4a80"/>
<rect x="385.84" y="397.06" width="2.70" height="40.68" fill="#b85e00"/>
<rect x="387.84" y="397.06" width="3.40" height="40.68" fill="#ff8000"/>
<rect x="390.54" y="397.06" width="3.29" height="40.68" fill="#0000ff"/>
<rect x="393.13" y="397.06" width="8.93" height="40.68" fill="#ff8000"/>
<rect x="401.35" y="397.06" width="1.76" height="40.68" fill="#5a2d00"/>
<rect x="405.82" y="397.06" width="3.87" height="40.68" fill="#ff8000"/>
<rect x="408.99" y="397.06" width="2.70" height="40.68" fill="#5a2d00"/>
<rect x="410.99" y="397.06" width="10.45" height="40.68" fill="#ff8000"/>
<rect x="420.74" y="397.06" width="2.23" height="40.68" fill="#b85e00"/>
<rect x="422.27" y="397.06" width="13.86" height="40.68" fill="#ff8000"/>
<rect x="435.43" y="397.06" width="2.11" height="40.68" fill="#ffb466"/>
<rect x="436.84" y="397.06" width="6.93" height="40.68" fill="#ff8000"/>
<rect x="443.07" y="397.06" width="2.46" height="40.68" fill="#b85e00"/>
<rect x="444.83" y="397.06" width="1.88" height="40.68" fill="#ff8000"/>
<rect x="446.00" y="397.06" width="3.05" height="40.68" fill="#0000ff"/>
<rect x="448.36" y="397.06" width="3.64" height="40.68" fill="#ff8000"/>
<rect x="451.29" y="397.06" width="2.70" height="40.68" fill="#9a4a80"/>
<rect x="453.29" y="397.06" width="9.87" height="40.68" fill="#ff8000"/>
<rect x="462.46" y="397.06" width="2.11" height="40.68" fill="#5a2d00"/>
<rect x="463.87" y="397.06" width="2.23" height="40.68" fill="#b85e00"/>
<rect x="465.39" y="397.06" width="2.23" height="40.68" fill="#9a4a80"/>
<rect x="466.92" y="397.06" width="7.99" height="40.68" fill="#ff8000"/>
<rect x="474.21" y="397.06" width="2.11" height="40.68" fill="#9a4a80"/>
<rect x="475.62" y="397.06" width="9.28" height="40.68" fill="#ff8000"/>
<rect x="484.20" y="397.06" width="4.23" height="40.68" fill="#b85e00"/>
<rect x="487.72" y="397.06" width="7.75" height="40.68" fill="#ff8000"/>
<rect x="494.77" y="397.06" width="3.05" height="40.68" fill="#ffb466"/>
<rect x="497.12" y="397.06" width="3.76" height="40.68" fill="#ff8000"/>
<rect x="390.54" y="356.68" width="1.65" height="40.68" fill="#3a3aff"/>
<rect x="397.24" y="356.68" width="2.23" height="40.68" fill="#5a2d00"/>
<rect x="398.77" y="356.68" width="2.59" height="40.68" fill="#ff8000"/>
<rect x="407.23" y="356.68" width="2.46" height="40.68" fill="#ff8000"/>
<rect x="408.99" y="356.68" width="4.23" height="40.68" fill="#000000"/>
<rect x="412.51" y="356.68" width="3.05" height="40.68" fill="#b85e00"/>
<rect x="414.82" y="356.68" width="1.00" height="40.68" fill="#3a3a3a"/>
<rect x="416.62" y="356.68" width="1.70" height="40.68" fill="#3a3a3a"/>
<rect x="417.57" y="356.68" width="2.70" height="40.68" fill="#b85e00"/>
<rect x="419.57" y="356.68" width="3.05" height="40.68" fill="#ffb466"/>
<rect x="421.92" y="356.68" width="3.05" height="40.68" fill="#b85e00"/>
<rect x="424.27" y="356.68" width="3.05" height="40.68" fill="#ffb466"/>
<rect x="426.62" y="356.68" width="1.88" height="40.68" fill="#b85e00"/>
<rect x="427.79" y="356.68" width="1.88" height="40.68" fill="#ff8000"/>
<rect x="428.97" y="356.68" width="1.88" height="40.68" fill="#b85e00"/>
<rect x="430.14" y="356.68" width="1.88" height="40.68" fill="#ff8000"/>
<rect x="431.32" y="356.68" width="8.93" height="40.68" fill="#000000"/>
<rect x="439.54" y="356.68" width="2.46" height="40.68" fill="#3a3a3a"/>
<rect x="441.30" y="356.68" width="4.23" height="40.68" fill="#000000"/>
<rect x="444.83" y="356.68" width="1.88" height="40.68" fill="#767676"/>
<rect x="446.00" y="356.68" width="3.29" height="40.68" fill="#00007a"/>
<rect x="448.59" y="356.68" width="3.76" height="40.68" fill="#b85e00"/>
<rect x="451.65" y="356.68" width="2.70" height="40.68" fill="#767676"/>
<rect x="453.64" y="356.68" width="2.46" height="40.68" fill="#000000"/>
<rect x="455.41" y="356.68" width="3.05" height="40.68" fill="#ff8000"/>
<rect x="457.76" y="356.68" width="3.64" height="40.68" fill="#b85e00"/>
<rect x="460.69" y="356.68" width="16.56" height="40.68" fill="#000000"/>
<rect x="476.56" y="356.68" width="2.46" height="40.68" fill="#b85e00"/>
<rect x="478.32" y="356.68" width="11.28" height="40.68" fill="#000000"/>
<rect x="488.90" y="356.68" width="3.64" height="40.68" fill="#ff8000"/>
<rect x="491.83" y="356.68" width="2.46" height="40.68" fill="#b85e00"/>
<rect x="493.60" y="356.68" width="4.81" height="40.68" fill="#ff8000"/>
<rect x="497.71" y="356.68" width="3.17" height="40.68" fill="#b85e00"/>
<rect x="500.20" y="397.06" width="1.18" height="40.68" fill="#ff8000"/>
<rect x="504.31" y="397.06" width="7.75" height="40.68" fill="#ff8000"/>
<rect x="511.36" y="397.06" width="2.23" height="40.68" fill="#3a3a3a"/>
<rect x="512.89" y="397.06" width="3.17" height="40.68" fill="#ff8000"/>
<rect x="519.59" y="397.06" width="3.05" height="40.68" fill="#ffb466"/>
<rect x="521.94" y="397.06" width="7.64" height="40.68" fill="#ff8000"/>
<rect x="534.28" y="397.06" width="2.46" height="40.68" fill="#767676"/>
<rect x="536.04" y="397.06" width="2.23" height="40.68" fill="#7878ff"/>
<rect x="537.57" y="397.06" width="2.70" height="40.68" fill="#0000ff"/>
<rect x="539.57" y="397.06" width="5.75" height="40.68" fill="#ff8000"/>
<rect x="544.62" y="397.06" width="2.70" height="40.68" fill="#9a4a80"/>
<rect x="546.62" y="397.06" width="9.51" height="40.68" fill="#ff8000"/>
<rect x="555.43" y="397.06" width="1.88" height="40.68" fill="#b85e00"/>
<rect x="556.60" y="397.06" width="7.16" height="40.68" fill="#ff8000"/>
<rect x="563.07" y="397.06" width="2.70" height="40.68" fill="#3a3aff"/>
<rect x="565.02" y="397.06" width="1.00" height="40.68" fill="#ff9a33"/>
<rect x="566.82" y="397.06" width="1.70" height="40.68" fill="#ff9a33"/>
<rect x="567.77" y="397.06" width="3.05" height="40.68" fill="#3a3a3a"/>
<rect x="570.12" y="397.06" width="2.70" height="40.68" fill="#ffb466"/>
<rect x="572.12" y="397.06" width="3.99" height="40.68" fill="#b85e00"/>
<rect x="575.41" y="397.06" width="1.88" height="40.68" fill="#000000"/>
<rect x="576.58" y="397.06" width="4.81" height="40.68" fill="#ff8000"/>
<rect x="580.69" y="397.06" width="3.87" height="40.68" fill="#9a4a80"/>
<rect x="583.87" y="397.06" width="1.10" height="40.68" fill="#3a3aff"/>
<rect x="586.06" y="397.06" width="1.80" height="40.68" fill="#3a3aff"/>
<rect x="587.16" y="397.06" width="5.40" height="40.68" fill="#0000ff"/>
<rect x="591.86" y="397.06" width="3.64" height="40.68" fill="#9a4a80"/>
<rect x="594.79" y="397.06" width="6.58" height="40.68" fill="#ff8000"/>
<rect x="600.67" y="397.06" width="2.23" height="40.68" fill="#9a4a80"/>
<rect x="602.20" y="397.06" width="3.29" height="40.68" fill="#ff8000"/>
<rect x="604.78" y="397.06" width="2.02" height="40.68" fill="#9a4a80"/>
<rect x="606.10" y="397.06" width="2.02" height="40.68" fill="#ff8000"/>
<rect x="607.43" y="397.06" width="2.02" height="40.68" fill="#9a4a80"/>
<rect x="608.75" y="397.06" width="2.02" height="40.68" fill="#ff8000"/>
<rect x="610.07" y="397.06" width="2.07" height="40.68" fill="#00007a"/>
<rect x="611.44" y="397.06" width="2.07" height="40.68" fill="#0000ff"/>
<rect x="612.81" y="397.06" width="2.07" height="40.68" fill="#00007a"/>
<rect x="614.18" y="397.06" width="6.69" height="40.68" fill="#ff8000"/>
<rect x="500.20" y="356.68" width="2.11" height="40.68" fill="#b85e00"/>
<rect x="501.61" y="356.68" width="3.40" height="40.68" fill="#000000"/>
<rect x="504.31" y="356.68" width="3.87" height="40.68" fill="#ff8000"/>
<rect x="507.49" y="356.68" width="3.99" height="40.68" fill="#5a2d00"/>
<rect x="510.78" y="356.68" width="2.82" height="40.68" fill="#000000"/>
<rect x="512.89" y="356.68" width="3.87" height="40.68" fill="#ff8000"/>
<rect x="516.06" y="356.68" width="4.23" height="40.68" fill="#3a3a3a"/>
<rect x="519.59" y="356.68" width="2.35" height="40.68" fill="#767676"/>
<rect x="527.81" y="356.68" width="2.46" height="40.68" fill="#b85e00"/>
<rect x="529.58" y="356.68" width="2.46" height="40.68" fill="#000000"/>
<rect x="531.34" y="356.68" width="2.46" height="40.68" fill="#767676"/>
<rect x="533.10" y="356.68" width="3.05" height="40.68" fill="#000000"/>
<rect x="535.45" y="356.68" width="2.46" height="40.68" fill="#767676"/>
<rect x="537.22" y="356.68" width="5.40" height="40.68" fill="#0000ff"/>
<rect x="541.92" y="356.68" width="2.23" height="40.68" fill="#767676"/>
<rect x="543.44" y="356.68" width="1.95" height="40.68" fill="#00007a"/>
<rect x="544.70" y="356.68" width="1.95" height="40.68" fill="#0000ff"/>
<rect x="545.95" y="356.68" width="1.95" height="40.68" fill="#00007a"/>
<rect x="547.20" y="356.68" width="3.05" height="40.68" fill="#5a2d00"/>
<rect x="549.55" y="356.68" width="3.64" height="40.68" fill="#b85e00"/>
<rect x="552.49" y="356.68" width="3.05" height="40.68" fill="#ff8000"/>
<rect x="554.84" y="356.68" width="3.64" height="40.68" fill="#000000"/>
<rect x="557.78" y="356.68" width="3.05" height="40.68" fill="#0000ff"/>
<rect x="560.13" y="356.68" width="2.46" height="40.68" fill="#00007a"/>
<rect x="561.89" y="356.68" width="3.05" height="40.68" fill="#0000ff"/>
<rect x="564.24" y="356.68" width="3.64" height="40.68" fill="#000000"/>
<rect x="567.18" y="356.68" width="2.82" height="40.68" fill="#767676"/>
<rect x="569.30" y="356.68" width="11.51" height="40.68" fill="#000000"/>
<rect x="580.11" y="356.68" width="2.46" height="40.68" fill="#3a3a3a"/>
<rect x="581.87" y="356.68" width="2.46" height="40.68" fill="#000000"/>
<rect x="583.62" y="356.68" width="1.00" height="40.68" fill="#3a3a3a"/>
<rect x="585.58" y="356.68" width="1.70" height="40.68" fill="#3a3a3a"/>
<rect x="586.57" y="356.68" width="2.23" height="40.68" fill="#000000"/>
<rect x="588.10" y="356.68" width="2.70" height="40.68" fill="#7878ff"/>
<rect x="590.09" y="356.68" width="5.99" height="40.68" fill="#0000ff"/>
<rect x="595.38" y="356.68" width="3.29" height="40.68" fill="#ff8000"/>
<rect x="597.97" y="356.68" width="3.99" height="40.68" fill="#00007a"/>
<rect x="601.26" y="356.68" width="4.81" height="40.68" fill="#0000ff"/>
<rect x="605.37" y="356.68" width="2.23" height="40.68" fill="#9a4a80"/>
<rect x="606.90" y="356.68" width="11.51" height="40.68" fill="#0000ff"/>
<rect x="617.71" y="356.68" width="2.46" height="40.68" fill="#9a4a80"/>
<rect x="619.32" y="356.68" width="1.70" height="40.68" fill="#0000ff"/>
<rect x="620.20" y="397.06" width="3.05" height="40.68" fill="#b85e00"/>
<rect x="622.54" y="397.06" width="1.00" height="40.68" fill="#3a3aff"/>
<rect x="624.50" y="397.06" width="1.70" height="40.68" fill="#3a3aff"/>
<rect x="625.49" y="397.06" width="2.46" height="40.68" fill="#ff8000"/>
<rect x="627.25" y="397.06" width="3.64" height="40.68" fill="#9a4a80"/>
<rect x="630.19" y="397.06" width="2.46" height="40.68" fill="#b85e00"/>
<rect x="631.95" y="397.06" width="2.46" height="40.68" fill="#00007a"/>
<rect x="633.71" y="397.06" width="5.99" height="40.68" fill="#ff8000"/>
<rect x="639.00" y="397.06" width="3.05" height="40.68" fill="#0000ff"/>
<rect x="641.35" y="397.06" width="2.46" height="40.68" fill="#9a4a80"/>
<rect x="643.11" y="397.06" width="2.07" height="40.68" fill="#00007a"/>
<rect x="644.49" y="397.06" width="2.07" height="40.68" fill="#0000ff"/>
<rect x="645.86" y="397.06" width="2.07" height="40.68" fill="#00007a"/>
<rect x="647.23" y="397.06" width="4.81" height="40.68" fill="#ff8000"/>
<rect x="651.34" y="397.06" width="8.57" height="40.68" fill="#0000ff"/>
<rect x="659.21" y="397.06" width="3.99" height="40.68" fill="#ff8000"/>
<rect x="662.50" y="397.06" width="2.11" height="40.68" fill="#9a4a80"/>
<rect x="663.91" y="397.06" width="6.34" height="40.68" fill="#ff8000"/>
<rect x="669.55" y="397.06" width="3.05" height="40.68" fill="#5a2d00"/>
<rect x="671.90" y="397.06" width="3.29" height="40.68" fill="#0000ff"/>
<rect x="674.49" y="397.06" width="2.58" height="40.68" fill="#b85e00"/>
<rect x="676.37" y="397.06" width="9.75" height="40.68" fill="#ff8000"/>
<rect x="685.42" y="397.06" width="2.46" height="40.68" fill="#9a4a80"/>
<rect x="687.18" y="397.06" width="7.52" height="40.68" fill="#ff8000"/>
<rect x="694.00" y="397.06" width="2.70" height="40.68" fill="#ffb466"/>
<rect x="695.99" y="397.06" width="3.40" height="40.68" fill="#ff8000"/>
<rect x="698.70" y="397.06" width="2.11" height="40.68" fill="#b85e00"/>
<rect x="700.11" y="397.06" width="8.34" height="40.68" fill="#ff8000"/>
<rect x="707.74" y="397.06" width="2.23" height="40.68" fill="#b85e00"/>
<rect x="709.27" y="397.06" width="4.23" height="40.68" fill="#3a3aff"/>
<rect x="712.80" y="397.06" width="2.70" height="40.68" fill="#ff8000"/>
<rect x="714.79" y="397.06" width="3.05" height="40.68" fill="#0000ff"/>
<rect x="717.14" y="397.06" width="2.46" height="40.68" fill="#ff8000"/>
<rect x="718.91" y="397.06" width="2.82" height="40.68" fill="#9a4a80"/>
<rect x="721.02" y="397.06" width="11.51" height="40.68" fill="#ff8000"/>
<rect x="731.83" y="397.06" width="1.88" height="40.68" fill="#9a4a80"/>
<rect x="733.01" y="397.06" width="3.64" height="40.68" fill="#ff8000"/>
<rect x="735.95" y="397.06" width="2.23" height="40.68" fill="#9a4a80"/>
<rect x="737.47" y="397.06" width="3.40" height="40.68" fill="#ff8000"/>
<rect x="620.20" y="356.68" width="4.23" height="40.68" fill="#0000ff"/>
<rect x="623.73" y="356.68" width="2.46" height="40.68" fill="#7878ff"/>
<rect x="625.49" y="356.68" width="1.88" height="40.68" fill="#000000"/>
<rect x="626.66" y="356.68" width="4.23" height="40.68" fill="#0000ff"/>
<rect x="630.19" y="356.68" width="2.46" height="40.68" fill="#9a4a80"/>
<rect x="631.95" y="356.68" width="2.82" height="40.68" fill="#0000ff"/>
<rect x="634.07" y="356.68" width="3.29" height="40.68" fill="#ff8000"/>
<rect x="636.65" y="356.68" width="2.46" height="40.68" fill="#9a4a80"/>
<rect x="638.40" y="356.68" width="1.00" height="40.68" fill="#3a3a3a"/>
<rect x="640.36" y="356.68" width="1.70" height="40.68" fill="#3a3a3a"/>
<rect x="641.35" y="356.68" width="2.46" height="40.68" fill="#000000"/>
<rect x="643.11" y="356.68" width="4.81" height="40.68" fill="#0000ff"/>
<rect x="647.23" y="356.68" width="1.95" height="40.68" fill="#9a4a80"/>
<rect x="648.48" y="356.68" width="1.95" height="40.68" fill="#ff8000"/>
<rect x="649.73" y="356.68" width="1.95" height="40.68" fill="#9a4a80"/>
<rect x="650.99" y="356.68" width="2.82" height="40.68" fill="#0000ff"/>
<rect x="653.10" y="356.68" width="3.05" height="40.68" fill="#00007a"/>
<rect x="655.45" y="356.68" width="9.16" height="40.68" fill="#0000ff"/>
<rect x="663.91" y="356.68" width="2.82" height="40.68" fill="#ff8000"/>
<rect x="666.03" y="356.68" width="3.05" height="40.68" fill="#0000ff"/>
<rect x="668.38" y="356.68" width="2.46" height="40.68" fill="#9a4a80"/>
<rect x="670.14" y="356.68" width="2.46" height="40.68" fill="#ff8000"/>
<rect x="671.90" y="356.68" width="2.46" height="40.68" fill="#9a4a80"/>
<rect x="673.67" y="356.68" width="2.46" height="40.68" fill="#00007a"/>
<rect x="675.43" y="356.68" width="3.99" height="40.68" fill="#0000ff"/>
<rect x="678.72" y="356.68" width="3.29" height="40.68" fill="#ff8000"/>
<rect x="681.30" y="356.68" width="3.05" height="40.68" fill="#0000ff"/>
<rect x="683.65" y="356.68" width="2.11" height="40.68" fill="#ff8000"/>
<rect x="685.06" y="356.68" width="2.58" height="40.68" fill="#9a4a80"/>
<rect x="686.95" y="356.68" width="14.45" height="40.68" fill="#ff8000"/>
<rect x="700.69" y="356.68" width="2.11" height="40.68" fill="#9a4a80"/>
<rect x="702.10" y="356.68" width="27.49" height="40.68" fill="#ff8000"/>
<rect x="728.90" y="356.68" width="2.70" height="40.68" fill="#9a4a80"/>
<rect x="730.89" y="356.68" width="9.98" height="40.68" fill="#ff8000"/>
<rect x="740.20" y="397.06" width="2.11" height="40.68" fill="#ff8000"/>
<rect x="741.61" y="397.06" width="2.58" height="40.68" fill="#9a4a80"/>
<rect x="743.49" y="397.06" width="7.05" height="40.68" fill="#ff8000"/>
<rect x="749.84" y="397.06" width="2.58" height="40.68" fill="#9a4a80"/>
<rect x="751.72" y="397.06" width="3.29" height="40.68" fill="#ff8000"/>
<rect x="754.30" y="397.06" width="2.11" height="40.68" fill="#9a4a80"/>
<rect x="755.71" y="397.06" width="8.69" height="40.68" fill="#ff8000"/>
<rect x="763.70" y="397.06" width="2.46" height="40.68" fill="#9a4a80"/>
<rect x="765.46" y="397.06" width="1.88" height="40.68" fill="#ff8000"/>
<rect x="766.64" y="397.06" width="3.05" height="40.68" fill="#0000ff"/>
<rect x="768.99" y="397.06" width="2.70" height="40.68" fill="#ff8000"/>
<rect x="770.99" y="397.06" width="1.88" height="40.68" fill="#b85e00"/>
<rect x="772.16" y="397.06" width="11.98" height="40.68" fill="#ff8000"/>
<rect x="783.44" y="397.06" width="2.11" height="40.68" fill="#9a4a80"/>
<rect x="784.85" y="397.06" width="8.69" height="40.68" fill="#ff8000"/>
<rect x="792.84" y="397.06" width="2.35" height="40.68" fill="#9a4a80"/>
<rect x="794.49" y="397.06" width="6.93" height="40.68" fill="#ff8000"/>
<rect x="800.72" y="397.06" width="1.88" height="40.68" fill="#9a4a80"/>
<rect x="801.89" y="397.06" width="11.28" height="40.68" fill="#ff8000"/>
<rect x="812.47" y="397.06" width="1.88" height="40.68" fill="#9a4a80"/>
<rect x="813.64" y="397.06" width="3.05" height="40.68" fill="#ff8000"/>
<rect x="815.94" y="397.06" width="1.00" height="40.68" fill="#ff9a33"/>
<rect x="817.75" y="397.06" width="1.70" height="40.68" fill="#ff9a33"/>
<rect x="818.70" y="397.06" width="5.05" height="40.68" fill="#ff8000"/>
<rect x="823.04" y="397.06" width="2.23" height="40.68" fill="#9a4a80"/>
<rect x="824.57" y="397.06" width="29.14" height="40.68" fill="#ff8000"/>
<rect x="853.01" y="397.06" width="3.64" height="40.68" fill="#0000ff"/>
<rect x="855.95" y="397.06" width="4.93" height="40.68" fill="#ff8000"/>
<rect x="740.20" y="356.68" width="11.04" height="40.68" fill="#ff8000"/>
<rect x="750.54" y="356.68" width="1.88" height="40.68" fill="#b85e00"/>
<rect x="751.72" y="356.68" width="19.50" height="40.68" fill="#ff8000"/>
<rect x="770.52" y="356.68" width="2.70" height="40.68" fill="#9a4a80"/>
<rect x="772.50" y="356.68" width="1.00" height="40.68" fill="#ff9a33"/>
<rect x="774.46" y="356.68" width="1.70" height="40.68" fill="#ff9a33"/>
<rect x="775.45" y="356.68" width="3.05" height="40.68" fill="#ff8000"/>
<rect x="777.80" y="356.68" width="3.05" height="40.68" fill="#9a4a80"/>
<rect x="780.15" y="356.68" width="2.46" height="40.68" fill="#ff8000"/>
<rect x="781.92" y="356.68" width="2.70" height="40.68" fill="#00007a"/>
<rect x="783.91" y="356.68" width="3.40" height="40.68" fill="#ff8000"/>
<rect x="786.62" y="356.68" width="3.05" height="40.68" fill="#9a4a80"/>
<rect x="788.97" y="356.68" width="3.05" height="40.68" fill="#ffb466"/>
<rect x="791.32" y="356.68" width="3.87" height="40.68" fill="#0000ff"/>
<rect x="794.49" y="356.68" width="3.40" height="40.68" fill="#ff8000"/>
<rect x="797.19" y="356.68" width="5.99" height="40.68" fill="#0000ff"/>
<rect x="802.48" y="356.68" width="2.82" height="40.68" fill="#9a4a80"/>
<rect x="804.59" y="356.68" width="2.70" height="40.68" fill="#ff8000"/>
<rect x="806.59" y="356.68" width="2.46" height="40.68" fill="#9a4a80"/>
<rect x="808.36" y="356.68" width="4.23" height="40.68" fill="#00007a"/>
<rect x="811.88" y="356.68" width="3.29" height="40.68" fill="#0000ff"/>
<rect x="814.47" y="356.68" width="2.82" height="40.68" fill="#ff8000"/>
<rect x="816.58" y="356.68" width="2.82" height="40.68" fill="#0000ff"/>
<rect x="818.70" y="356.68" width="3.29" height="40.68" fill="#9a4a80"/>
<rect x="821.28" y="356.68" width="3.64" height="40.68" fill="#0000ff"/>
<rect x="824.22" y="356.68" width="2.46" height="40.68" fill="#9a4a80"/>
<rect x="825.98" y="356.68" width="3.05" height="40.68" fill="#0000ff"/>
<rect x="828.32" y="356.68" width="1.00" height="40.68" fill="#ff9a33"/>
<rect x="830.28" y="356.68" width="1.70" height="40.68" fill="#ff9a33"/>
<rect x="831.27" y="356.68" width="5.75" height="40.68" fill="#ff8000"/>
<rect x="836.32" y="356.68" width="3.05" height="40.68" fill="#0000ff"/>
<rect x="838.67" y="356.68" width="10.92" height="40.68" fill="#ff8000"/>
<rect x="848.90" y="356.68" width="5.40" height="40.68" fill="#0000ff"/>
<rect x="853.60" y="356.68" width="1.88" height="40.68" fill="#3a3aff"/>
<rect x="854.77" y="356.68" width="2.46" height="40.68" fill="#0000ff"/>
<rect x="856.53" y="356.68" width="2.11" height="40.68" fill="#ff8000"/>
<rect x="857.94" y="356.68" width="2.23" height="40.68" fill="#9a4a80"/>
<rect x="859.47" y="356.68" width="1.41" height="40.68" fill="#ff8000"/>
<rect x="398.41" y="316.30" width="2.94" height="40.68" fill="#ff8000"/>
<rect x="407.81" y="316.30" width="1.76" height="40.68" fill="#3a3a3a"/>
<rect x="411.93" y="316.30" width="2.35" height="40.68" fill="#000000"/>
<rect x="416.04" y="316.30" width="2.46" height="40.68" fill="#767676"/>
<rect x="417.79" y="316.30" width="1.00" height="40.68" fill="#ff9a33"/>
<rect x="419.75" y="316.30" width="1.00" height="40.68" fill="#ff9a33"/>
<rect x="425.44" y="316.30" width="14.21" height="40.68" fill="#000000"/>
<rect x="438.95" y="316.30" width="1.99" height="40.68" fill="#000000"/>
<rect x="440.25" y="316.30" width="1.99" height="40.68" fill="#767676"/>
<rect x="441.54" y="316.30" width="1.99" height="40.68" fill="#000000"/>
<rect x="442.83" y="316.30" width="1.99" height="40.68" fill="#767676"/>
<rect x="444.12" y="316.30" width="1.99" height="40.68" fill="#000000"/>
<rect x="445.42" y="316.30" width="2.35" height="40.68" fill="#000000"/>
<rect x="450.12" y="316.30" width="1.76" height="40.68" fill="#767676"/>
<rect x="453.64" y="316.30" width="5.40" height="40.68" fill="#000000"/>
<rect x="458.34" y="316.30" width="3.05" height="40.68" fill="#767676"/>
<rect x="460.69" y="316.30" width="2.94" height="40.68" fill="#000000"/>
<rect x="465.39" y="316.30" width="2.35" height="40.68" fill="#767676"/>
<rect x="469.51" y="316.30" width="2.35" height="40.68" fill="#000000"/>
<rect x="474.21" y="316.30" width="1.76" height="40.68" fill="#000000"/>
<rect x="478.91" y="316.30" width="3.05" height="40.68" fill="#3a3a3a"/>
<rect x="481.26" y="316.30" width="8.34" height="40.68" fill="#000000"/>
<rect x="488.90" y="316.30" width="3.05" height="40.68" fill="#b85e00"/>
<rect x="491.25" y="316.30" width="9.63" height="40.68" fill="#000000"/>
<rect x="427.79" y="275.92" width="2.94" height="40.68" fill="#000000"/>
<rect x="434.84" y="275.92" width="3.53" height="40.68" fill="#000000"/>
<rect x="440.13" y="275.92" width="3.64" height="40.68" fill="#000000"/>
<rect x="443.06" y="275.92" width="1.00" height="40.68" fill="#3a3a3a"/>
<rect x="445.02" y="275.92" width="1.00" height="40.68" fill="#3a3a3a"/>
<rect x="453.06" y="275.92" width="2.46" height="40.68" fill="#767676"/>
<rect x="454.82" y="275.92" width="3.17" height="40.68" fill="#000000"/>
<rect x="468.92" y="275.92" width="2.94" height="40.68" fill="#000000"/>
<rect x="480.67" y="275.92" width="2.35" height="40.68" fill="#3a3a3a"/>
<rect x="485.96" y="275.92" width="3.05" height="40.68" fill="#000000"/>
<rect x="488.30" y="275.92" width="1.00" height="40.68" fill="#ff9a33"/>
<rect x="490.26" y="275.92" width="1.00" height="40.68" fill="#ff9a33"/>
<rect x="493.01" y="275.92" width="2.35" height="40.68" fill="#3a3a3a"/>
<rect x="497.71" y="275.92" width="1.76" height="40.68" fill="#3a3a3a"/>
<rect x="500.20" y="316.30" width="3.64" height="40.68" fill="#000000"/>
<rect x="503.14" y="316.30" width="3.05" height="40.68" fill="#3a3a3a"/>
<rect x="505.48" y="316.30" width="1.00" height="40.68" fill="#3a3a3a"/>
<rect x="507.44" y="316.30" width="1.70" height="40.68" fill="#3a3a3a"/>
<rect x="508.43" y="316.30" width="9.51" height="40.68" fill="#000000"/>
<rect x="517.24" y="316.30" width="3.64" height="40.68" fill="#3a3a3a"/>
<rect x="520.18" y="316.30" width="3.05" height="40.68" fill="#767676"/>
<rect x="522.53" y="316.30" width="1.88" height="40.68" fill="#000000"/>
<rect x="523.70" y="316.30" width="1.18" height="40.68" fill="#3a3a3a"/>
<rect x="526.05" y="316.30" width="1.88" height="40.68" fill="#3a3a3a"/>
<rect x="527.23" y="316.30" width="11.28" height="40.68" fill="#000000"/>
<rect x="537.80" y="316.30" width="3.64" height="40.68" fill="#00007a"/>
<rect x="540.74" y="316.30" width="2.23" height="40.68" fill="#767676"/>
<rect x="542.27" y="316.30" width="1.95" height="40.68" fill="#000000"/>
<rect x="543.52" y="316.30" width="1.95" height="40.68" fill="#767676"/>
<rect x="544.78" y="316.30" width="1.25" height="40.68" fill="#000000"/>
<rect x="553.08" y="316.30" width="4.23" height="40.68" fill="#000000"/>
<rect x="556.60" y="316.30" width="1.88" height="40.68" fill="#3a3a3a"/>
<rect x="557.78" y="316.30" width="3.64" height="40.68" fill="#000000"/>
<rect x="560.71" y="316.30" width="1.00" height="40.68" fill="#3a3a3a"/>
<rect x="562.67" y="316.30" width="1.70" height="40.68" fill="#3a3a3a"/>
<rect x="563.65" y="316.30" width="3.05" height="40.68" fill="#3a3a3a"/>
<rect x="566.00" y="316.30" width="27.14" height="40.68" fill="#000000"/>
<rect x="592.44" y="316.30" width="4.81" height="40.68" fill="#0000ff"/>
<rect x="596.56" y="316.30" width="4.23" height="40.68" fill="#00007a"/>
<rect x="600.08" y="316.30" width="7.75" height="40.68" fill="#0000ff"/>
<rect x="607.13" y="316.30" width="4.23" height="40.68" fill="#00007a"/>
<rect x="610.66" y="316.30" width="10.22" height="40.68" fill="#0000ff"/>
<rect x="500.19" y="275.92" width="1.00" height="40.68" fill="#3a3a3a"/>
<rect x="502.15" y="275.92" width="1.70" height="40.68" fill="#3a3a3a"/>
<rect x="503.14" y="275.92" width="7.16" height="40.68" fill="#000000"/>
<rect x="509.60" y="275.92" width="3.05" height="40.68" fill="#767676"/>
<rect x="511.95" y="275.92" width="4.81" height="40.68" fill="#000000"/>
<rect x="516.06" y="275.92" width="2.46" height="40.68" fill="#767676"/>
<rect x="517.83" y="275.92" width="13.51" height="40.68" fill="#000000"/>
<rect x="535.45" y="275.92" width="4.23" height="40.68" fill="#3a3a3a"/>
<rect x="538.98" y="275.92" width="4.11" height="40.68" fill="#000000"/>
<rect x="554.25" y="275.92" width="1.18" height="40.68" fill="#3a3a3a"/>
<rect x="556.60" y="275.92" width="1.88" height="40.68" fill="#3a3a3a"/>
<rect x="557.78" y="275.92" width="1.88" height="40.68" fill="#3a3a3a"/>
<rect x="558.95" y="275.92" width="2.35" height="40.68" fill="#767676"/>
<rect x="565.42" y="275.92" width="3.64" height="40.68" fill="#3a3a3a"/>
<rect x="568.36" y="275.92" width="3.64" height="40.68" fill="#000000"/>
<rect x="571.29" y="275.92" width="2.46" height="40.68" fill="#3a3a3a"/>
<rect x="573.06" y="275.92" width="1.22" height="40.68" fill="#3a3a3a"/>
<rect x="575.50" y="275.92" width="1.22" height="40.68" fill="#3a3a3a"/>
<rect x="577.94" y="275.92" width="1.22" height="40.68" fill="#3a3a3a"/>
<rect x="581.87" y="275.92" width="5.40" height="40.68" fill="#000000"/>
<rect x="586.57" y="275.92" width="1.18" height="40.68" fill="#3a3a3a"/>
<rect x="588.92" y="275.92" width="1.18" height="40.68" fill="#3a3a3a"/>
<rect x="592.44" y="275.92" width="3.05" height="40.68" fill="#00007a"/>
<rect x="594.79" y="275.92" width="4.81" height="40.68" fill="#000000"/>
<rect x="598.91" y="275.92" width="3.29" height="40.68" fill="#7878ff"/>
<rect x="601.49" y="275.92" width="3.99" height="40.68" fill="#3a3aff"/>
<rect x="604.78" y="275.92" width="2.94" height="40.68" fill="#0000ff"/>
<rect x="610.66" y="275.92" width="2.07" height="40.68" fill="#00007a"/>
<rect x="612.03" y="275.92" width="2.07" height="40.68" fill="#0000ff"/>
<rect x="613.40" y="275.92" width="2.07" height="40.68" fill="#00007a"/>
<rect x="614.77" y="275.92" width="3.05" height="40.68" fill="#7878ff"/>
<rect x="617.12" y="275.92" width="3.76" height="40.68" fill="#3a3aff"/>
<rect x="620.20" y="316.30" width="2.46" height="40.68" fill="#00007a"/>
<rect x="621.96" y="316.30" width="8.93" height="40.68" fill="#0000ff"/>
<rect x="630.19" y="316.30" width="2.46" height="40.68" fill="#9a4a80"/>
<rect x="631.95" y="316.30" width="1.76" height="40.68" fill="#3a3aff"/>
<rect x="636.06" y="316.30" width="1.76" height="40.68" fill="#7878ff"/>
<rect x="644.29" y="316.30" width="6.70" height="40.68" fill="#0000ff"/>
<rect x="656.04" y="316.30" width="2.07" height="40.68" fill="#00007a"/>
<rect x="657.41" y="316.30" width="2.07" height="40.68" fill="#0000ff"/>
<rect x="658.78" y="316.30" width="2.07" height="40.68" fill="#00007a"/>
<rect x="660.15" y="316.30" width="3.64" height="40.68" fill="#0000ff"/>
<rect x="663.09" y="316.30" width="3.05" height="40.68" fill="#3a3a3a"/>
<rect x="665.44" y="316.30" width="9.99" height="40.68" fill="#0000ff"/>
<rect x="678.37" y="316.30" width="9.75" height="40.68" fill="#0000ff"/>
<rect x="687.42" y="316.30" width="13.39" height="40.68" fill="#ff8000"/>
<rect x="700.11" y="316.30" width="2.46" height="40.68" fill="#7878ff"/>
<rect x="701.87" y="316.30" width="2.46" height="40.68" fill="#ff8000"/>
<rect x="703.63" y="316.30" width="2.07" height="40.68" fill="#b85e00"/>
<rect x="705.00" y="316.30" width="2.07" height="40.68" fill="#ff8000"/>
<rect x="706.37" y="316.30" width="2.07" height="40.68" fill="#b85e00"/>
<rect x="707.74" y="316.30" width="14.80" height="40.68" fill="#ff8000"/>
<rect x="721.85" y="316.30" width="2.70" height="40.68" fill="#7878ff"/>
<rect x="723.84" y="316.30" width="4.23" height="40.68" fill="#ff8000"/>
<rect x="727.37" y="316.30" width="1.53" height="40.68" fill="#3a3aff"/>
<rect x="731.25" y="316.30" width="2.07" height="40.68" fill="#9a4a80"/>
<rect x="732.62" y="316.30" width="2.07" height="40.68" fill="#ff8000"/>
<rect x="733.99" y="316.30" width="2.07" height="40.68" fill="#9a4a80"/>
<rect x="735.36" y="316.30" width="5.52" height="40.68" fill="#ff8000"/>
<rect x="620.20" y="275.92" width="3.64" height="40.68" fill="#3a3a3a"/>
<rect x="623.14" y="275.92" width="4.23" height="40.68" fill="#0000ff"/>
<rect x="626.66" y="275.92" width="3.64" height="40.68" fill="#3a3aff"/>
<rect x="629.60" y="275.92" width="2.12" height="40.68" fill="#0000ff"/>
<rect x="657.80" y="275.92" width="3.64" height="40.68" fill="#3a3a3a"/>
<rect x="660.74" y="275.92" width="2.00" height="40.68" fill="#3a3aff"/>
<rect x="665.44" y="275.92" width="2.35" height="40.68" fill="#3a3aff"/>
<rect x="669.79" y="275.92" width="2.35" height="40.68" fill="#3a3a3a"/>
<rect x="678.95" y="275.92" width="2.35" height="40.68" fill="#3a3a3a"/>
<rect x="683.42" y="275.92" width="2.35" height="40.68" fill="#3a3aff"/>
<rect x="687.77" y="275.92" width="2.00" height="40.68" fill="#7878ff"/>
<rect x="690.71" y="275.92" width="2.46" height="40.68" fill="#ffb466"/>
<rect x="692.47" y="275.92" width="1.88" height="40.68" fill="#ff9a33"/>
<rect x="693.64" y="275.92" width="2.35" height="40.68" fill="#ffb466"/>
<rect x="697.76" y="275.92" width="1.76" height="40.68" fill="#ffb466"/>
<rect x="709.51" y="275.92" width="2.35" height="40.68" fill="#ffb466"/>
<rect x="713.62" y="275.92" width="3.64" height="40.68" fill="#ff8000"/>
<rect x="716.56" y="275.92" width="2.35" height="40.68" fill="#ffb466"/>
<rect x="725.96" y="275.92" width="2.59" height="40.68" fill="#3a3aff"/>
<rect x="730.07" y="275.92" width="1.76" height="40.68" fill="#ffb466"/>
<rect x="736.53" y="275.92" width="1.21" height="40.68" fill="#ff9a33"/>
<rect x="738.96" y="275.92" width="1.91" height="40.68" fill="#ff9a33"/>
<rect x="740.20" y="316.30" width="4.23" height="40.68" fill="#ff8000"/>
<rect x="743.73" y="316.30" width="2.46" height="40.68" fill="#ff9a33"/>
<rect x="745.49" y="316.30" width="7.75" height="40.68" fill="#ff8000"/>
<rect x="752.54" y="316.30" width="3.05" height="40.68" fill="#ff9a33"/>
<rect x="754.89" y="316.30" width="1.76" height="40.68" fill="#ffb466"/>
<rect x="757.83" y="316.30" width="2.46" height="40.68" fill="#ff8000"/>
<rect x="759.59" y="316.30" width="4.23" height="40.68" fill="#ff9a33"/>
<rect x="763.11" y="316.30" width="7.05" height="40.68" fill="#ff8000"/>
<rect x="772.16" y="316.30" width="2.12" height="40.68" fill="#7878ff"/>
<rect x="775.45" y="316.30" width="2.35" height="40.68" fill="#9a4a80"/>
<rect x="784.62" y="316.30" width="2.70" height="40.68" fill="#9a4a80"/>
<rect x="786.62" y="316.30" width="4.23" height="40.68" fill="#3a3aff"/>
<rect x="790.14" y="316.30" width="2.46" height="40.68" fill="#7878ff"/>
<rect x="791.90" y="316.30" width="3.53" height="40.68" fill="#3a3aff"/>
<rect x="797.19" y="316.30" width="1.76" height="40.68" fill="#7878ff"/>
<rect x="800.13" y="316.30" width="15.39" height="40.68" fill="#0000ff"/>
<rect x="814.82" y="316.30" width="2.46" height="40.68" fill="#9a4a80"/>
<rect x="816.58" y="316.30" width="4.70" height="40.68" fill="#0000ff"/>
<rect x="824.57" y="316.30" width="2.00" height="40.68" fill="#0000ff"/>
<rect x="828.33" y="316.30" width="1.76" height="40.68" fill="#7878ff"/>
<rect x="831.86" y="316.30" width="2.12" height="40.68" fill="#0000ff"/>
<rect x="837.14" y="316.30" width="2.46" height="40.68" fill="#7878ff"/>
<rect x="838.91" y="316.30" width="3.64" height="40.68" fill="#9a4a80"/>
<rect x="841.85" y="316.30" width="2.35" height="40.68" fill="#ff9a33"/>
<rect x="846.55" y="316.30" width="2.35" height="40.68" fill="#9a4a80"/>
<rect x="851.25" y="316.30" width="1.18" height="40.68" fill="#3a3aff"/>
<rect x="853.60" y="316.30" width="1.18" height="40.68" fill="#3a3aff"/>
<rect x="857.12" y="316.30" width="1.02" height="40.68" fill="#3a3aff"/>
<rect x="859.16" y="316.30" width="1.72" height="40.68" fill="#3a3aff"/>
<rect x="740.20" y="275.92" width="3.05" height="40.68" fill="#ffb466"/>
<rect x="742.55" y="275.92" width="2.94" height="40.68" fill="#ff9a33"/>
<rect x="747.02" y="275.92" width="1.41" height="40.68" fill="#ffb466"/>
<rect x="749.60" y="275.92" width="4.23" height="40.68" fill="#ff8000"/>
<rect x="753.12" y="275.92" width="1.00" height="40.68" fill="#ff9a33"/>
<rect x="755.07" y="275.92" width="1.00" height="40.68" fill="#ff9a33"/>
<rect x="763.70" y="275.92" width="4.70" height="40.68" fill="#ff8000"/>
<rect x="784.62" y="275.92" width="2.35" height="40.68" fill="#3a3aff"/>
<rect x="808.94" y="275.92" width="2.35" height="40.68" fill="#7878ff"/>
<rect x="812.47" y="275.92" width="2.35" height="40.68" fill="#3a3aff"/>
<rect x="815.99" y="275.92" width="2.00" height="40.68" fill="#7878ff"/>
<rect x="824.22" y="275.92" width="2.35" height="40.68" fill="#3a3aff"/>
<rect x="440.50" y="235.54" width="1.60" height="40.38" fill="#3a3a3a"/>
<rect x="493.50" y="235.54" width="1.60" height="40.38" fill="#767676"/>
<rect x="497.10" y="235.54" width="1.60" height="40.38" fill="#767676"/>
<rect x="503.70" y="235.54" width="6.60" height="40.38" fill="#000000"/>
<rect x="503.80" y="195.16" width="1.60" height="40.38" fill="#767676"/>
<rect x="505.80" y="195.16" width="2.40" height="40.38" fill="#000000"/>
<rect x="508.60" y="195.16" width="1.60" height="40.38" fill="#767676"/>
<rect x="512.10" y="235.54" width="2.80" height="40.38" fill="#000000"/>
<rect x="514.90" y="235.54" width="2.00" height="40.38" fill="#3a3a3a"/>
<rect x="520.70" y="235.54" width="6.00" height="40.38" fill="#000000"/>
<rect x="522.70" y="195.16" width="4.00" height="40.38" fill="#000000"/>
<rect x="525.00" y="114.40" width="1.40" height="80.76" fill="#3a3a3a"/>
<rect x="541.50" y="235.54" width="1.80" height="40.38" fill="#767676"/>
<rect x="565.80" y="235.54" width="2.40" height="40.38" fill="#767676"/>
<rect x="568.30" y="235.54" width="2.60" height="40.38" fill="#000000"/>
<rect x="585.20" y="195.16" width="1.80" height="80.76" fill="#767676"/>
<rect x="596.05" y="235.54" width="1.70" height="40.38" fill="#3a3a3a"/>
<rect x="603.00" y="235.54" width="1.80" height="40.38" fill="#767676"/>
<rect x="616.10" y="235.54" width="2.00" height="40.38" fill="#7878ff"/>
<rect x="624.30" y="235.54" width="2.60" height="40.38" fill="#3a3aff"/>
<rect x="629.00" y="235.54" width="1.80" height="40.38" fill="#7878ff"/>
<rect x="709.90" y="235.54" width="2.00" height="40.38" fill="#ffb466"/>
<rect x="714.60" y="235.54" width="2.60" height="40.38" fill="#ff9a33"/>
<rect x="741.10" y="235.54" width="2.00" height="40.38" fill="#ffb466"/>
<rect x="744.00" y="235.54" width="2.00" height="40.38" fill="#ffb466"/>
<rect x="748.10" y="235.54" width="2.00" height="40.38" fill="#ffb466"/>
<rect x="764.30" y="235.54" width="2.00" height="40.38" fill="#ffb466"/>
<rect x="815.90" y="235.54" width="2.00" height="40.38" fill="#7878ff"/>
</g>
<g id="labels">
<!-- axes -->
<g stroke="#111" stroke-width="2.6" fill="none" stroke-linecap="round">
<path d="M115.4 13.8V618.9"/>
<path d="M108.6 618.9H1009.3"/>
<path d="M102.9 114.7H115M102.9 316.4H115M102.9 518.15H115"/>
<path d="M108.6 13.8H115M108.6 215.6H115M108.6 417.3H115"/>
<path d="M263.9 619V630.6M562.1 619V630.6M859.9 619V630.6"/>
<path d="M115.4 619V624.5M413 619V624.5M711 619V624.5M1009.3 619V624.5"/>
</g>
<g font-size="26.6" text-anchor="end">
<text transform="translate(94 122.6) scale(1 1.126)">10</text>
<text transform="translate(94 324.3) scale(1 1.126)">5</text>
<text transform="translate(94 526.0) scale(1 1.126)">0</text>
</g>
<g font-size="26.6" text-anchor="middle">
<text transform="translate(263.9 661.2) scale(1 1.126)">0</text>
<text transform="translate(562.1 661.2) scale(1 1.126)">5000</text>
<text transform="translate(860.7 661.2) scale(1 1.126)">10000</text>
</g>
<text transform="translate(562.1 712.7) scale(1 1.04)" font-size="33" text-anchor="middle">Time (ps)</text>
<text transform="translate(42 333) rotate(-90) scale(1 1.05)" font-size="32.8" text-anchor="middle">No. of H-Bonds</text>
<!-- legend -->
<g stroke-width="1.7">
<path d="M564.5 539.2H618.5" stroke="#444"/>
<path d="M564.5 568.7H618.5" stroke="#6464ff"/>
<path d="M564.5 598.1H618.5" stroke="#ffa555"/>
</g>
<g font-size="24">
<text x="624.2" y="547.2">Number of H-Bond (no electric field)</text>
<text x="624.2" y="576.4">Number of H-Bond (E=0.001 V/nm)</text>
<text x="624.2" y="605.6">Number of H-Bond (E=0.002 V/nm)</text>
</g>
</g>
</svg>
</body></html>
